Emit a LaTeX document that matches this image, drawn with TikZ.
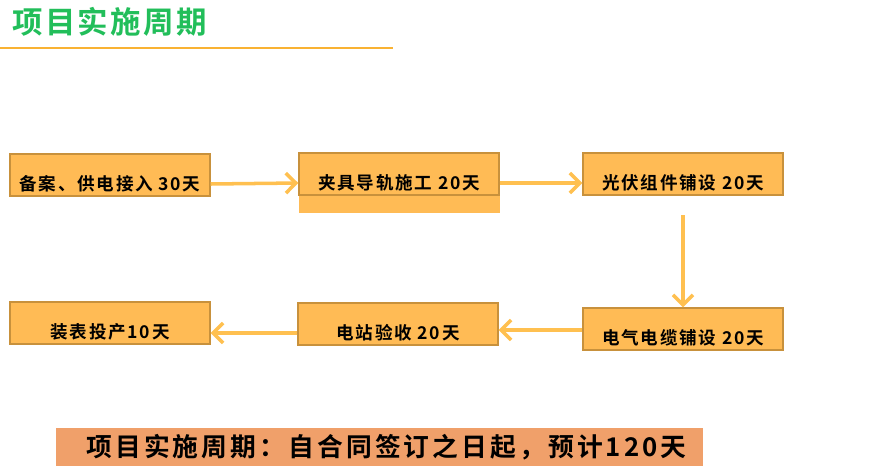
\documentclass[tikz,border=0pt]{standalone}
\usepackage{fontspec}
\setmainfont{Noto Sans CJK SC}[BoldFont={Noto Sans CJK SC Bold}]
\usepackage{tikz}
\usetikzlibrary{arrows.meta,positioning}

\definecolor{boxfill}{RGB}{255,187,85}
\definecolor{boxline}{RGB}{200,145,60}
\definecolor{flowline}{RGB}{255,192,80}
\definecolor{titlegreen}{RGB}{34,190,90}
\definecolor{rulecol}{RGB}{249,178,51}
\definecolor{bannerfill}{RGB}{240,160,106}

\begin{document}
\begin{tikzpicture}[
      x=0.03cm, y=-0.03cm,
      stage/.style={
        draw=boxline,
        line width=1.2pt,
        fill=boxfill,
        minimum width=200*0.03cm,
        minimum height=42*0.03cm,
        inner sep=0pt,
        text height=36*0.03cm,
        text depth=6*0.03cm,
        font=\bfseries\fontsize{15}{17}\selectfont\addfontfeatures{LetterSpace=10}
      },
      flow/.style={-{Straight Barb[length=3mm,width=6mm]}, line width=3pt, flowline},
      headline/.style={font=\bfseries\fontsize{26}{30}\selectfont\addfontfeatures{LetterSpace=8}, text=titlegreen}
    ]
    \useasboundingbox (0,0) rectangle (875,475);

    % title
    \node[headline, anchor=west] (title) at (8,22) {项目实施周期};
    \draw[rulecol, line width=1.5pt] (0,48) -- (393,48);

    % stages
    \fill[boxfill] (299,195) rectangle (500,213);
    \node[stage] (filing) at (110,175) {备案、供电接入 30天};
    \node[stage] (clamp) at (399,174) {夹具导轨施工 20天};
    \node[stage] (panel) at (683,174) {光伏组件铺设 20天};
    \node[stage] (cable) at (683,329) {电气电缆铺设 20天};
    \node[stage] (accept) at (398,324) {电站验收 20天};
    \node[stage] (meter) at (110,323) {装表投产10天};

    \draw[flow] (filing.east |- 0,184) -- (clamp.west |- 0,183);
    \draw[flow] (clamp.east |- 0,183) -- (panel.west |- 0,183);
    \draw[flow] (panel.south |- 0,215) -- (cable.north);
    \draw[flow] (cable.west |- 0,330) -- (accept.east |- 0,330);
    \draw[flow] (accept.west |- 0,333) -- (meter.east |- 0,333);

    % summary
    \node[fill=bannerfill, minimum width=647*0.03cm, minimum height=38*0.03cm,
      inner sep=0pt, font=\bfseries\fontsize{22}{26}\selectfont\addfontfeatures{LetterSpace=12}] (summary) at (379.5,447)
      {\hspace*{0.42cm}项目实施周期：自合同签订之日起，预计120天};
  \end{tikzpicture}
\end{document}
